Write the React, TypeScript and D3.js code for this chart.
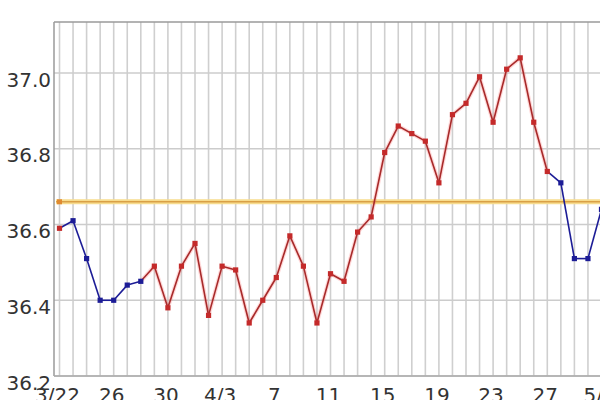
import React from "react";
import * as d3 from "d3";

// Basal body temperature readings, one per day starting 3/22
const temps: number[] = [
  36.59, 36.61, 36.51, 36.4, 36.4, 36.44, 36.45, 36.49, 36.38, 36.49,
  36.55, 36.36, 36.49, 36.48, 36.34, 36.4, 36.46, 36.57, 36.49, 36.34,
  36.47, 36.45, 36.58, 36.62, 36.79, 36.86, 36.84, 36.82, 36.71, 36.89,
  36.92, 36.99, 36.87, 37.01, 37.04, 36.87, 36.74, 36.71, 36.51, 36.51,
  36.64,
];
// point colour group: "b" = blue, "r" = red
const groups: string[] = [
  "r", "b", "b", "b", "b", "b", "b", "r", "r", "r",
  "r", "r", "r", "r", "r", "r", "r", "r", "r", "r",
  "r", "r", "r", "r", "r", "r", "r", "r", "r", "r",
  "r", "r", "r", "r", "r", "r", "r", "b", "b", "b",
  "b",
];
const xTickIndex: number[] = [0, 4, 8, 12, 16, 20, 24, 28, 32, 36, 40];
const xTickLabels: string[] = ["3/22", "26", "30", "4/3", "7", "11", "15", "19", "23", "27", "5/1"];
const yTicks: number[] = [36.2, 36.4, 36.6, 36.8, 37.0];
const coverLine: number[] = [36.66];

const W = 600;
const H = 400;
const RED = "#c42a2a";
const BLUE = "#1c1c96";

type Pt = { i: number; v: number };

export default function App() {
  const x = d3.scaleLinear().domain([0, 40]).range([59.5, 601.5]);
  const y = d3.scaleLinear().domain([36.2, 37.0]).range([376, 73]);
  const top = 22;
  const left = 54;
  const bottom = y(36.2);
  const days = d3.range(0, 44);
  const line = d3
    .line<Pt>()
    .x((p) => x(p.i))
    .y((p) => y(p.v));

  const segs = temps.slice(1).map((t, k) => {
    const i = k + 1;
    return {
      d: line([{ i: i - 1, v: temps[i - 1] }, { i, v: t }]) as string,
      i,
      color: groups[i] === "b" ? BLUE : RED,
    };
  });

  return (
    <svg
      width={W}
      height={H}
      style={{ position: "absolute", left: 0, top: 0, background: "#fff" }}
      fontFamily="DejaVu Sans, sans-serif"
    >
      {/* vertical day grid */}
      {days.map((i) => (
        <line key={"v" + i} x1={x(i)} x2={x(i)} y1={top} y2={bottom} stroke="#cfcfcf" strokeWidth={1.6} />
      ))}
      {/* horizontal grid */}
      {yTicks.map((t) => (
        <line key={"h" + t} x1={left} x2={W} y1={y(t)} y2={y(t)} stroke="#cccccc" strokeWidth={1.6} />
      ))}
      {/* frame */}
      <line x1={left} x2={W} y1={top} y2={top} stroke="#9a9a9a" strokeWidth={1.5} />
      <line x1={left} x2={left} y1={top} y2={bottom} stroke="#9a9a9a" strokeWidth={1.5} />
      <line x1={left} x2={W} y1={bottom} y2={bottom} stroke="#aaaaaa" strokeWidth={1.5} />

      {/* cover line */}
      {coverLine.map((c) => (
        <g key={"c" + c}>
          <line x1={left + 2} x2={W} y1={y(c)} y2={y(c)} stroke="#f7dc8e" strokeWidth={5} />
          <line x1={left + 2} x2={W} y1={y(c)} y2={y(c)} stroke="#d9a046" strokeWidth={1.5} />
          <rect x={x(0) - 2.5} y={y(c) - 2.5} width={5} height={5} fill="#e08a30" />
        </g>
      ))}

      {/* temperature segments */}
      {segs.map((s) =>
        s.color === RED ? (
          <path key={"g" + s.i} d={s.d} fill="none" stroke="rgba(255,80,80,0.22)" strokeWidth={4} />
        ) : null
      )}
      {segs.map((s) => (
        <path key={"s" + s.i} d={s.d} fill="none" stroke={s.color === RED ? "#a82a2a" : BLUE} strokeWidth={1.6} />
      ))}
      {temps.map((t, i) => (
        <rect
          key={"p" + i}
          x={x(i) - 2.6}
          y={y(t) - 2.6}
          width={5.2}
          height={5.2}
          fill={groups[i] === "b" ? BLUE : RED}
        />
      ))}

      {/* y labels */}
      {yTicks.map((t) => (
        <text
          key={"yl" + t}
          x={51}
          y={y(t) + 8}
          textAnchor="end"
          dominantBaseline="middle"
          fontSize={20}
          fill="#333"
        >
          {t.toFixed(1)}
        </text>
      ))}
      {/* x labels */}
      {xTickIndex.map((i, k) => (
        <text key={"xl" + i} x={x(i) - 2} y={402} textAnchor="middle" fontSize={20} fill="#333">
          {xTickLabels[k]}
        </text>
      ))}
    </svg>
  );
}
